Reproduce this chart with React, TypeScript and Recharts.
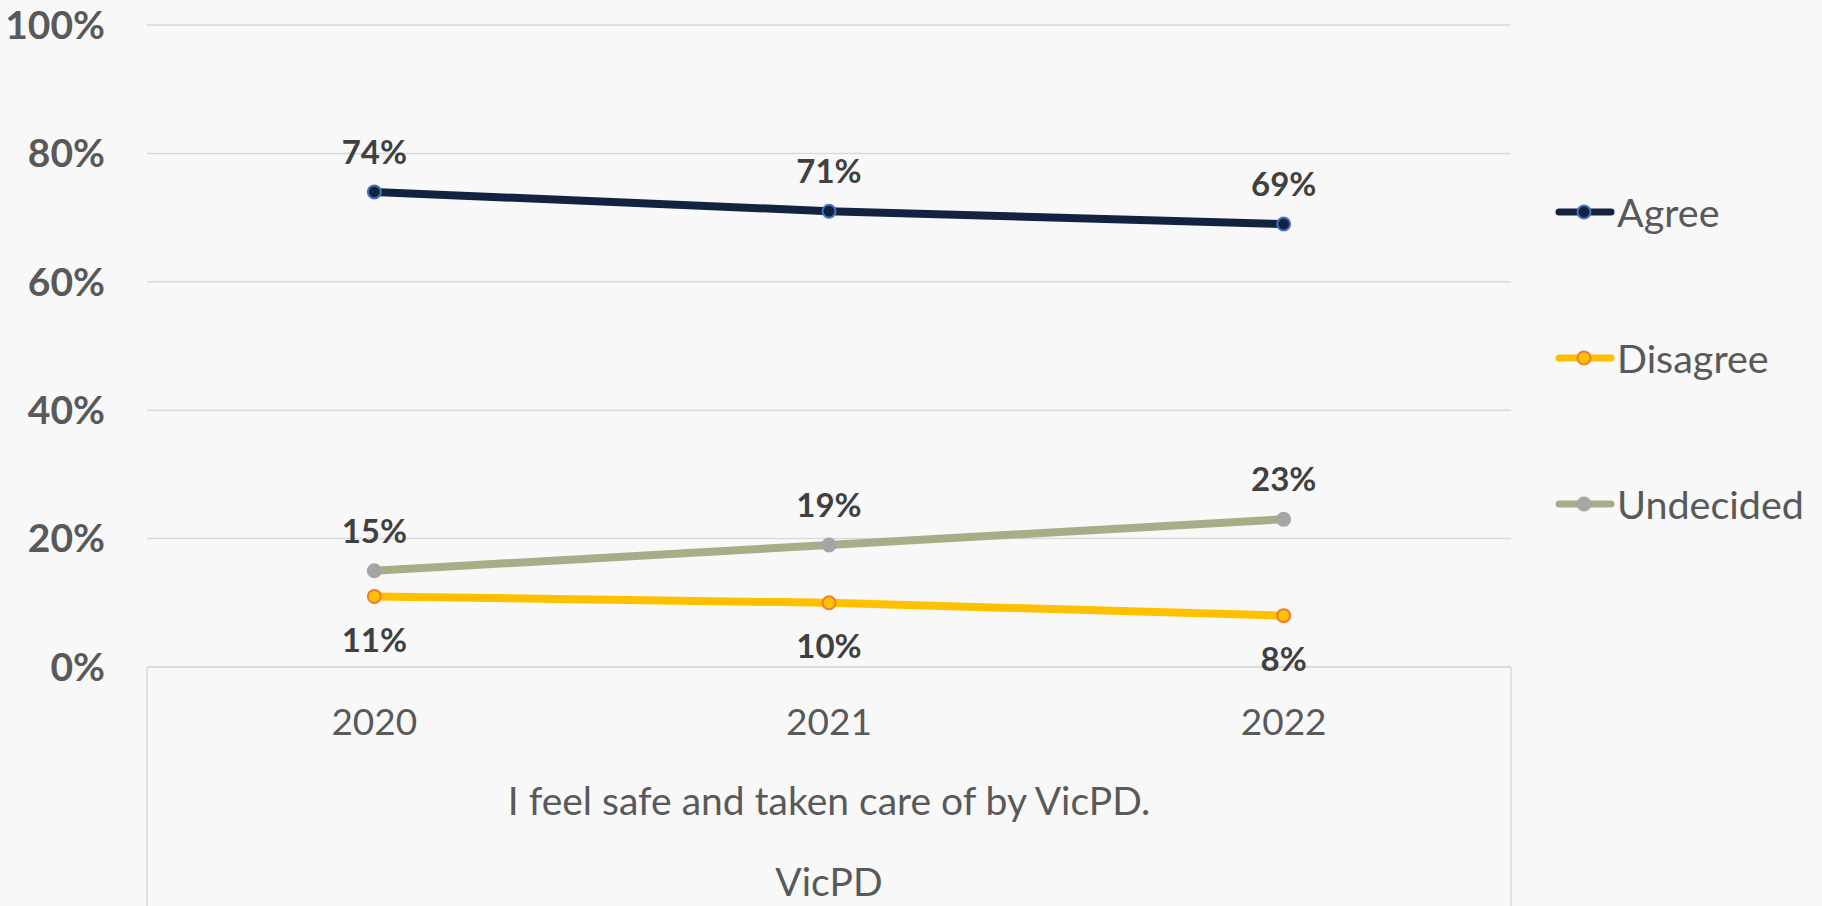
import React from 'react';
import * as R from 'recharts';

const { LineChart, Line, XAxis, YAxis, CartesianGrid, LabelList, Legend } = R as any;

// ---- data ----
const years = ['2020', '2021', '2022'];
const agree = [0.74, 0.71, 0.69];
const disagree = [0.11, 0.1, 0.08];
const undecided = [0.15, 0.19, 0.23];
const yTicks = [0, 0.2, 0.4, 0.6, 0.8, 1];
const titleLines = ['I feel safe and taken care of by VicPD.', 'VicPD'];

const data = years.map((y, i) => ({
  year: y,
  Agree: agree[i],
  Disagree: disagree[i],
  Undecided: undecided[i],
}));

// ---- styles ----
const W = 1822;
const H = 906;
const FONT = 'Lato, "Open Sans", sans-serif';
const BG = '#f8f8f8';
const GRID = '#d9d9d9';
const XAXIS_H = 30;
const MARGIN = { top: 25, right: 311, bottom: 239 - XAXIS_H, left: 0 };
const YAXIS_W = 147;

const SERIES: Record<string, { line: string; fill: string; stroke: string }> = {
  Agree: { line: '#13233f', fill: '#13233f', stroke: '#4472c4' },
  Disagree: { line: '#ffc000', fill: '#ffc000', stroke: '#ed7d31' },
  Undecided: { line: '#a6ad88', fill: '#a5a5a5', stroke: '#a5a5a5' },
};

const pct = (v: number) => `${Math.round(v * 100)}%`;

const usePA: () => any = (R as any).usePlotArea || (() => null);

function AxisBox() {
  const pa = usePA() || {
    x: MARGIN.left + YAXIS_W,
    y: MARGIN.top,
    width: W - MARGIN.left - YAXIS_W - MARGIN.right,
    height: H - MARGIN.top - MARGIN.bottom - XAXIS_H,
  };
  const bottom = pa.y + pa.height;
  const cx = pa.x + pa.width / 2;
  return (
    <g>
      <line x1={pa.x} x2={pa.x} y1={bottom} y2={H} stroke={GRID} strokeWidth={1.5} />
      <line x1={pa.x + pa.width} x2={pa.x + pa.width} y1={bottom} y2={H} stroke={GRID} strokeWidth={1.5} />
      <text x={cx} y={bottom + 148} textAnchor="middle" fill="#595959" fontSize={39} fontFamily={FONT}>
        {titleLines[0]}
      </text>
      <text x={cx} y={bottom + 229} textAnchor="middle" fill="#595959" fontSize={39} fontFamily={FONT}>
        {titleLines[1]}
      </text>
    </g>
  );
}

const renderLegend = (props: any) => {
  const payload = props.payload || [];
  return (
    <div style={{ display: 'flex', flexDirection: 'column' }}>
      {payload.map((p: any) => {
        const s = SERIES[p.value];
        return (
          <div key={p.value} style={{ height: 146, display: 'flex', alignItems: 'center' }}>
            <svg width={60} height={20} style={{ display: 'block' }}>
              <line x1={4} x2={56} y1={10} y2={10} stroke={s.line} strokeWidth={7} strokeLinecap="round" />
              <circle cx={29} cy={10} r={6.5} fill={s.fill} stroke={s.stroke} strokeWidth={2} />
            </svg>
            <span style={{ fontFamily: FONT, fontSize: 39.5, lineHeight: 1, color: '#595959', marginLeft: 2 }}>
              {p.value}
            </span>
          </div>
        );
      })}
    </div>
  );
};

const labelStyle = { fill: '#404040', fontSize: 33, fontWeight: 700, fontFamily: FONT };

export default function App() {
  return (
    <div style={{ position: 'absolute', left: 0, top: 0, width: W, height: H, background: BG }}>
      <LineChart width={W} height={H} data={data} margin={MARGIN} style={{ fontFamily: FONT }}>
        <CartesianGrid vertical={false} stroke={GRID} strokeWidth={1.5} />
        <XAxis
          dataKey="year"
          scale="band"
          height={XAXIS_H}
          axisLine={{ stroke: GRID, strokeWidth: 1.5 }}
          tickLine={false}
          tickSize={0}
          tickMargin={42}
          tick={{ fill: '#595959', fontSize: 37, fontFamily: FONT }}
        />
        <YAxis
          width={YAXIS_W}
          domain={[0, 1]}
          ticks={yTicks}
          tickFormatter={pct}
          axisLine={false}
          tickLine={false}
          tickSize={0}
          tickMargin={42}
          tick={{ fill: '#595959', fontSize: 39, fontWeight: 700, fontFamily: FONT }}
        />
        <Legend
          layout="vertical"
          align="center"
          verticalAlign="middle"
          content={renderLegend}
          wrapperStyle={{ position: 'absolute', left: 1555, top: 139, width: 267, height: 438 }}
        />
        {(['Agree', 'Disagree', 'Undecided'] as const).map((k) => (
          <Line
            key={k}
            type="linear"
            dataKey={k}
            name={k}
            stroke={SERIES[k].line}
            strokeWidth={8}
            dot={{ r: 6.5, fill: SERIES[k].fill, stroke: SERIES[k].stroke, strokeWidth: 2 }}
            activeDot={false}
            isAnimationActive={false}
          >
            <LabelList
              dataKey={k}
              position={k === 'Disagree' ? 'bottom' : 'top'}
              offset={k === 'Disagree' ? 32 : 28}
              formatter={pct}
              {...labelStyle}
            />
          </Line>
        ))}
        <AxisBox />
      </LineChart>
    </div>
  );
}
